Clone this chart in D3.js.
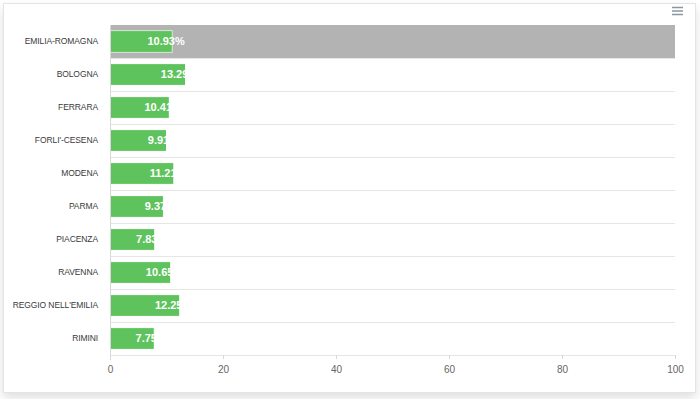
<!DOCTYPE html>
<html>
<head>
<meta charset="utf-8">
<script src="https://cdn.jsdelivr.net/npm/d3@7"></script>
<style>
    body { margin: 0; background: #fff; font-family: "Liberation Sans", Arial, sans-serif; }
    #frame {
        position: absolute; left: 3px; top: 3px; width: 691px; height: 388px;
        border: 1px solid #e4e4e4; box-shadow: 0 5px 10px rgba(0,0,0,0.13);
        background: #fff;
    }
    svg { position: absolute; left: 0; top: 0; }
</style>
</head>
<body>
<div id="frame"></div>
<svg id="chart"></svg>
<script>
// data
var provinces = ['EMILIA-ROMAGNA', 'BOLOGNA', 'FERRARA', "FORLI'-CESENA", 'MODENA', 'PARMA',
    'PIACENZA', 'RAVENNA', "REGGIO NELL'EMILIA", 'RIMINI'];
var values = [10.93, 13.29, 10.41, 9.91, 11.21, 9.37, 7.83, 10.65, 12.25, 7.75];
var xTicks = [0, 20, 40, 60, 80, 100];
var highlighted = 'EMILIA-ROMAGNA';

var svgWidth = 700,
    svgHeight = 399;
var margin = { top: 25, right: 25, bottom: 44, left: 110 };
var width = svgWidth - margin.left - margin.right;
var height = svgHeight - margin.top - margin.bottom;

var svg = d3.select('#chart')
    .attr('width', svgWidth)
    .attr('height', svgHeight);

var g = svg.append('g')
    .attr('transform', 'translate(' + margin.left + ',' + margin.top + ')');

var x = d3.scaleLinear()
    .domain([0, 100])
    .range([0, width]);

var y = d3.scaleBand()
    .domain(provinces)
    .range([0, height])
    .paddingInner(0.34)
    .paddingOuter(0.17);

var band = d3.scaleBand()
    .domain(provinces)
    .range([0, height]);

// highlight band
g.append('rect')
    .attr('x', 0)
    .attr('y', band(highlighted))
    .attr('width', width)
    .attr('height', band.bandwidth())
    .attr('fill', '#b3b3b3');

// grid lines between rows
g.selectAll('.grid')
    .data(provinces)
    .enter()
    .append('line')
    .attr('x1', 0)
    .attr('x2', width)
    .attr('y1', function (d) { return band(d) + band.bandwidth() + 0.5; })
    .attr('y2', function (d) { return band(d) + band.bandwidth() + 0.5; })
    .attr('stroke', '#e6e6e6');

// bars
g.selectAll('.bar')
    .data(values)
    .enter()
    .append('rect')
    .attr('x', x(0) + 0.5)
    .attr('y', function (d, i) { return y(provinces[i]); })
    .attr('width', function (d) { return x(d) - x(0); })
    .attr('height', y.bandwidth())
    .attr('fill', '#5fc35d')
    .attr('stroke', function (d, i) { return provinces[i] == highlighted ? '#d8e8d4' : '#ffffff'; })
    .attr('stroke-width', 1);

// value labels
g.selectAll('.value')
    .data(values)
    .enter()
    .append('text')
    .attr('x', function (d) { return x(d) + 13; })
    .attr('y', function (d, i) { return y(provinces[i]) + y.bandwidth() / 2; })
    .attr('dy', '0.36em')
    .attr('text-anchor', 'end')
    .attr('fill', '#ffffff')
    .attr('font-size', '11px')
    .attr('font-weight', 'bold')
    .text(function (d) { return d.toFixed(2) + '%'; });

// category labels
g.selectAll('.cat')
    .data(provinces)
    .enter()
    .append('text')
    .attr('x', -12)
    .attr('y', function (d) { return band(d) + band.bandwidth() / 2; })
    .attr('dy', '0.3em')
    .attr('text-anchor', 'end')
    .attr('fill', '#3a3a3a')
    .attr('font-size', '8.5px')
    .attr('letter-spacing', '-0.1px')
    .text(function (d) { return d; });

// y axis line
g.append('line')
    .attr('x1', 0.5)
    .attr('x2', 0.5)
    .attr('y1', 0)
    .attr('y2', height + 5)
    .attr('stroke', '#d8d8d8');

// x axis
var xAxis = g.append('g')
    .attr('transform', 'translate(0,' + height + ')')
    .call(d3.axisBottom(x).tickValues(xTicks).tickSize(4).tickPadding(7));

xAxis.select('.domain').attr('stroke', '#e6e6e6');
xAxis.selectAll('.tick line').attr('stroke', '#d8d8d8');
xAxis.selectAll('.tick text')
    .attr('fill', '#666')
    .attr('font-size', '10px')
    .attr('font-family', '"Liberation Sans", Arial, sans-serif');

// menu icon
svg.selectAll('.menu')
    .data([0, 1, 2])
    .enter()
    .append('line')
    .attr('x1', 672)
    .attr('x2', 683)
    .attr('y1', function (d) { return 7.5 + d * 3.5; })
    .attr('y2', function (d) { return 7.5 + d * 3.5; })
    .attr('stroke', '#8a96a0')
    .attr('stroke-width', 1.5);
</script>
</body>
</html>
